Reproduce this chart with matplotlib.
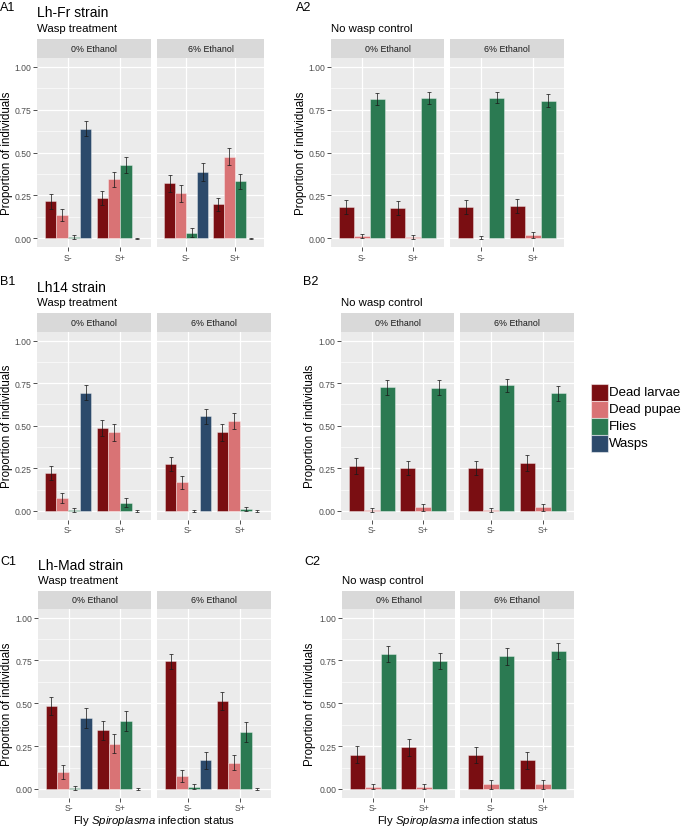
import numpy as np
import matplotlib
matplotlib.use("Agg")
import matplotlib.pyplot as plt
from matplotlib.patches import Rectangle

plt.rcParams["font.family"] = ["Liberation Sans", "DejaVu Sans"]
plt.rcParams["mathtext.fontset"] = "custom"
plt.rcParams["mathtext.rm"] = "Liberation Sans"
plt.rcParams["mathtext.it"] = "Liberation Sans:italic"

outcomes = ["Dead larvae", "Dead pupae", "Flies", "Wasps"]
outcome_colors = ["#7A0E12", "#D97375", "#2B7A52", "#2C4A6B"]
status = ["S-", "S+"]
ethanol = ["0% Ethanol", "6% Ethanol"]

# values are [ethanol][status][outcome]
lhfr_wasp_mean = [[[0.215, 0.137, 0.008, 0.639], [0.233, 0.343, 0.425, 0.0]],
                  [[0.320, 0.263, 0.033, 0.388], [0.198, 0.476, 0.333, 0.0]]]
lhfr_wasp_se = [[[0.043, 0.035, 0.014, 0.043], [0.041, 0.043, 0.046, 0.004]],
                [[0.047, 0.050, 0.025, 0.053], [0.040, 0.048, 0.044, 0.004]]]
lhfr_ctrl_mean = [[[0.184, 0.014, 0.810], [0.176, 0.008, 0.816]],
                  [[0.182, 0.005, 0.820], [0.188, 0.022, 0.800]]]
lhfr_ctrl_se = [[[0.040, 0.012, 0.035], [0.040, 0.010, 0.034]],
                [[0.040, 0.010, 0.034], [0.040, 0.018, 0.038]]]

lh14_wasp_mean = [[[0.223, 0.078, 0.006, 0.695], [0.488, 0.461, 0.049, 0.0]],
                  [[0.275, 0.168, 0.0, 0.555], [0.461, 0.529, 0.010, 0.0]]]
lh14_wasp_se = [[[0.042, 0.030, 0.012, 0.044], [0.047, 0.049, 0.026, 0.004]],
                [[0.043, 0.039, 0.005, 0.044], [0.048, 0.046, 0.012, 0.004]]]
lh14_ctrl_mean = [[[0.264, 0.006, 0.727], [0.250, 0.021, 0.723]],
                  [[0.252, 0.006, 0.738], [0.281, 0.021, 0.691]]]
lh14_ctrl_se = [[[0.045, 0.012, 0.044], [0.041, 0.020, 0.043]],
                [[0.042, 0.012, 0.039], [0.045, 0.020, 0.044]]]

lhmad_wasp_mean = [[[0.484, 0.098, 0.006, 0.414], [0.342, 0.264, 0.395, 0.0]],
                   [[0.744, 0.076, 0.014, 0.166], [0.514, 0.154, 0.332, 0.0]]]
lhmad_wasp_se = [[[0.055, 0.040, 0.013, 0.057], [0.054, 0.054, 0.058, 0.008]],
                 [[0.045, 0.037, 0.013, 0.049], [0.054, 0.045, 0.059, 0.006]]]
lhmad_ctrl_mean = [[[0.199, 0.012, 0.789], [0.242, 0.012, 0.746]],
                   [[0.197, 0.027, 0.773], [0.166, 0.027, 0.805]]]
lhmad_ctrl_se = [[[0.049, 0.014, 0.046], [0.050, 0.014, 0.049]],
                 [[0.045, 0.027, 0.047], [0.049, 0.027, 0.047]]]

W, H = 685, 829
fig = plt.figure(figsize=(W / 100, H / 100), dpi=100)


def box(x0, y0, x1, y1):
    return [x0 / W, 1 - y1 / H, (x1 - x0) / W, (y1 - y0) / H]


def draw_panel(facets_x, strip_top, top, bottom, means, ses, ylab_x):
    n = len(means[0][0])
    bw = 0.9 / n
    for f, (x0, x1) in enumerate(facets_x):
        sax = fig.add_axes(box(x0, strip_top, x1, top))
        sax.set_facecolor("#D9D9D9")
        sax.set_xticks([])
        sax.set_yticks([])
        for s in sax.spines.values():
            s.set_visible(False)
        sax.text(0.5, 0.5, ethanol[f], ha="center", va="center",
                 fontsize=6.4, color="#1A1A1A", transform=sax.transAxes)

        ax = fig.add_axes(box(x0, top, x1, bottom))
        ax.set_facecolor("#EBEBEB")
        for s in ax.spines.values():
            s.set_visible(False)
        ax.set_xlim(-0.6, 1.6)
        ax.set_ylim(-0.05, 1.05)
        ax.set_yticks([0, 0.25, 0.5, 0.75, 1.0])
        ax.set_yticks([0.125, 0.375, 0.625, 0.875], minor=True)
        ax.set_xticks([0, 1])
        ax.set_xticklabels(status)
        ax.grid(True, which="major", color="white", lw=0.9)
        ax.grid(True, which="minor", axis="y", color="white", lw=0.45)
        ax.set_axisbelow(True)
        ax.tick_params(axis="both", which="major", length=2.8, width=0.6,
                       color="#333333", labelsize=6.2, labelcolor="#4D4D4D", pad=1.4)
        ax.tick_params(which="minor", length=0)
        if f == 0:
            ax.set_yticklabels(["0.00", "0.25", "0.50", "0.75", "1.00"])
        else:
            ax.tick_params(axis="y", which="major", length=0, labelleft=False)

        for si in range(2):
            for k in range(n):
                xpos = si + (k - (n - 1) / 2) * bw
                m = means[f][si][k]
                e = ses[f][si][k]
                ax.bar(xpos, m, width=bw, color=outcome_colors[k],
                       edgecolor=(1, 1, 1, 0.35), linewidth=0.7, zorder=2)
                ax.errorbar(xpos, m, yerr=e, fmt="none", ecolor="#1A1A1A",
                            alpha=0.75, elinewidth=0.7, capsize=1.6,
                            capthick=0.7, zorder=3)

    fig.text(ylab_x / W, 1 - (top + bottom) / 2 / H, "Proportion of individuals",
             rotation=90, ha="center", va="center", fontsize=8.3, color="black")


rows = [
    dict(strip=40, top=59, bottom=248,
         left=[(37, 151), (157, 264)], right=[(331, 444), (450, 564)],
         lab=("A1", "A2"), strain="Lh-Fr strain",
         base=(11, 17, 31.5), ylx=(7.5, 301), lx=(0, 296),
         data=(lhfr_wasp_mean, lhfr_wasp_se, lhfr_ctrl_mean, lhfr_ctrl_se)),
    dict(strip=314, top=333, bottom=520.5,
         left=[(37, 151), (157, 271)], right=[(341, 454), (460, 574)],
         lab=("B1", "B2"), strain="Lh14 strain",
         base=(285, 292, 305.5), ylx=(7.5, 310), lx=(0, 303),
         data=(lh14_wasp_mean, lh14_wasp_se, lh14_ctrl_mean, lh14_ctrl_se)),
    dict(strip=592, top=610, bottom=798.5,
         left=[(38, 151), (157, 271)], right=[(342, 455), (460, 574)],
         lab=("C1", "C2"), strain="Lh-Mad strain",
         base=(565, 570, 584), ylx=(7.5, 310.5), lx=(0, 304),
         data=(lhmad_wasp_mean, lhmad_wasp_se, lhmad_ctrl_mean, lhmad_ctrl_se)),
]

for r in rows:
    wm, ws, cm, cs = r["data"]
    draw_panel(r["left"], r["strip"], r["top"], r["bottom"], wm, ws, r["ylx"][0])
    draw_panel(r["right"], r["strip"], r["top"], r["bottom"], cm, cs, r["ylx"][1])
    b_lab, b_title, b_sub = r["base"]
    fig.text(r["lx"][0] / W, 1 - b_lab / H, r["lab"][0], fontsize=9, va="baseline")
    fig.text(r["lx"][1] / W, 1 - b_lab / H, r["lab"][1], fontsize=9, va="baseline")
    fig.text(r["left"][0][0] / W, 1 - b_title / H, r["strain"], fontsize=10, va="baseline")
    fig.text(r["left"][0][0] / W, 1 - b_sub / H, "Wasp treatment", fontsize=8.2, va="baseline")
    fig.text(r["right"][0][0] / W, 1 - b_sub / H, "No wasp control", fontsize=8.2, va="baseline")

xlab = "Fly $\\mathit{Spiroplasma}$ infection status"
fig.text(154.5 / W, 1 - 828 / H, xlab, ha="center", va="bottom", fontsize=8.2)
fig.text(458 / W, 1 - 828 / H, xlab, ha="center", va="bottom", fontsize=8.2)

# legend
for i, (name, col) in enumerate(zip(outcomes, outcome_colors)):
    y0 = 385 + 17 * i
    fig.patches.append(Rectangle((591 / W, 1 - (y0 + 17) / H), 17 / W, 17 / H,
                                 facecolor=col, edgecolor=(1, 1, 1, 0.5), lw=0.8,
                                 transform=fig.transFigure, figure=fig))
    fig.text(609 / W, 1 - (y0 + 8.5) / H, name, fontsize=9.5, va="center", ha="left")

fig.savefig("out.png", dpi=100)
